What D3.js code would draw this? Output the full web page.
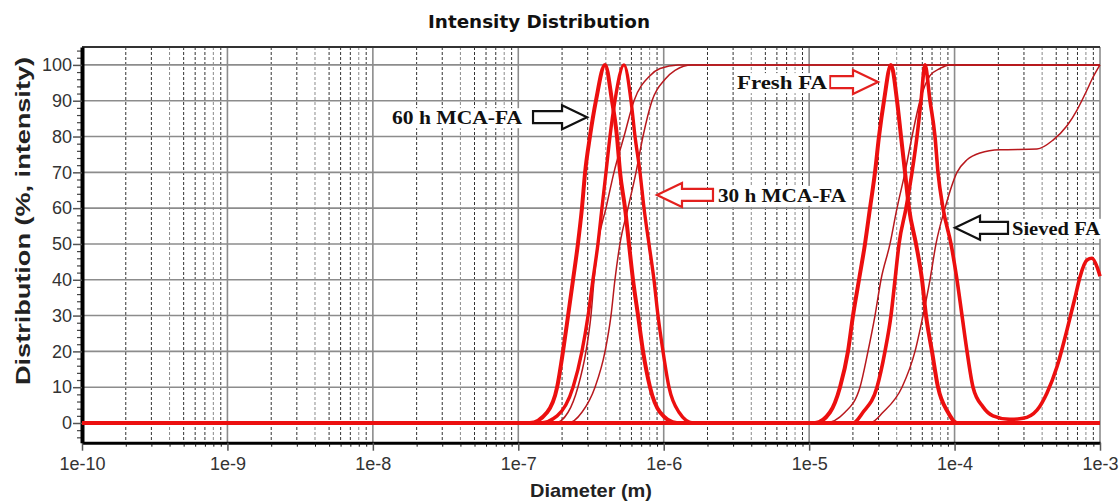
<!DOCTYPE html>
<html><head><meta charset="utf-8">
<script src="https://cdn.jsdelivr.net/npm/d3@7"></script>
<style>body{margin:0;background:#fff;}svg{display:block;}</style>
</head><body>
<svg id="chart" width="1120" height="502"></svg>
<script>
// ---------------- data (diameter in µm, value in % intensity) ----------------
const xDecades = [1e-10, 1e-9, 1e-8, 1e-7, 1e-6, 1e-5, 1e-4, 1e-3];
const yTickValues = [0, 10, 20, 30, 40, 50, 60, 70, 80, 90, 100];

const dist60h = [[0.120,0],[0.158,3],[0.185,10],[0.203,20],[0.220,30],[0.238,40],[0.257,50],[0.274,60],[0.288,70],[0.311,80],[0.342,90],[0.395,100],[0.441,90],[0.477,80],[0.501,70],[0.542,60],[0.577,50],[0.615,40],[0.666,30],[0.721,20],[0.805,10],[0.943,3],[1.234,0]];
const dist30h = [[0.141,0],[0.185,2],[0.238,10],[0.274,20],[0.302,30],[0.326,40],[0.353,50],[0.376,60],[0.401,70],[0.427,80],[0.462,90],[0.533,100],[0.596,90],[0.635,80],[0.687,70],[0.732,60],[0.792,50],[0.857,40],[0.913,30],[0.989,20],[1.087,10],[1.274,3],[1.590,0]];
const distFresh = [[10.97,0],[13.91,3],[16.30,10],[18.50,20],[20.03,30],[22.02,40],[24.21,50],[26.21,60],[28.37,70],[30.22,80],[32.71,90],[36.54,100],[40.20,90],[42.83,80],[45.63,70],[48.61,60],[54.31,50],[59.72,40],[63.62,30],[69.94,20],[76.91,10],[90.10,3],[103.9,0]];
const distSieved = [[20.03,0],[23.46,3],[29.28,10],[33.23,20],[36.54,30],[38.95,40],[41.49,50],[46.36,60],[50.98,70],[55.17,80],[58.78,90],[62.62,100],[67.76,90],[73.34,80],[76.91,70],[83.25,60],[94.49,50],[103.9,40],[112.5,30],[121.8,20],[133.9,10],[156.8,4.5],[183.7,2],[240.5,1],[295.4,1.3],[368.7,3.6],[432.0,8.4],[506.1,15.7],[593.0,26],[673.1,35],[728.6,40.8],[814,45.5],[881,46],[954,43.6],[1000,41]];

const cum60h = [[0.179,0],[0.220,3],[0.257,10],[0.292,20],[0.316,30],[0.332,40],[0.353,50],[0.401,60],[0.455,70],[0.533,80],[0.625,90],[0.805,97],[0.943,99],[1.254,100]];
const cum30h = [[0.220,0],[0.274,3],[0.337,10],[0.395,20],[0.434,30],[0.462,40],[0.500,50],[0.568,60],[0.645,70],[0.720,80],[0.831,90],[1.021,96],[1.196,98.5],[1.565,100]];
const cumFresh = [[12.85,0],[17.64,3],[22.37,10],[25.39,20],[28.37,30],[31.19,40],[35.97,50],[40.20,60],[45.63,70],[50.98,80],[57.85,90],[67.76,97],[79.4,99],[93.0,100]];
const cumSieved = [[26.21,0],[32.20,3],[43.51,10],[53.45,20],[60.67,30],[67.76,40],[74.51,50],[85.93,60],[103.9,70],[121.8,73.5],[149.6,75.4],[205.3,76.3],[368.7,76.5],[475.1,79],[593,83],[694.8,87.4],[814,93],[881,96],[1000,100]];

const labels = ["60 h MCA-FA", "30 h MCA-FA", "Fresh FA", "Sieved FA"];
const labelTips = [[0.297,85.4],[0.899,63.7],[29.75,95.2],[100.7,54.5]]; // arrow tip (µm, %)

// ---------------- layout ----------------
const svg = d3.select("#chart");
const L = 82, R = 1100, T = 47, B = 442.7;
const x = d3.scaleLog().domain([1e-10, 1e-3]).range([L, R]);
const y = d3.scaleLinear().domain([-5.5, 105]).range([B, T]);
const um = v => v * 1e-6;

// grid: minor dashed verticals
const minors = [];
xDecades.slice(0, -1).forEach(d => { for (let m = 2; m <= 9; m++) minors.push(d * m); });
svg.append("g").selectAll("line").data(minors).join("line")
  .attr("x1", d => x(d)).attr("x2", d => x(d)).attr("y1", T).attr("y2", B)
  .attr("stroke", (d, i) => (i % 8 === 2 || i % 8 === 6) ? "#8a8a8a" : "#333")
  .attr("stroke-width", 1).attr("stroke-dasharray", "3,2");
// decade verticals
svg.append("g").selectAll("line").data(xDecades.slice(1)).join("line")
  .attr("x1", d => x(d)).attr("x2", d => x(d)).attr("y1", T).attr("y2", B)
  .attr("stroke", "#8c8c8c").attr("stroke-width", 1.6);
// horizontal grid
svg.append("g").selectAll("line").data(yTickValues.slice(1)).join("line")
  .attr("x1", L).attr("x2", R).attr("y1", d => y(d)).attr("y2", d => y(d))
  .attr("stroke", "#8c8c8c").attr("stroke-width", 1.6);
// top border
svg.append("line").attr("x1", L).attr("x2", R).attr("y1", T).attr("y2", T)
  .attr("stroke", "#333").attr("stroke-width", 2);

// axes
const fmt = d => "1e" + Math.round(Math.log10(d));
const xAxis = svg.append("g").attr("transform", `translate(0,${B})`)
  .call(d3.axisBottom(x).tickValues(xDecades).tickFormat(fmt).tickSize(8).tickSizeOuter(0).tickPadding(7));
const xMinor = svg.append("g").attr("transform", `translate(0,${B})`)
  .call(d3.axisBottom(x).tickValues(minors).tickFormat("").tickSize(4).tickSizeOuter(0));
xMinor.select(".domain").remove();
xMinor.selectAll("line").attr("stroke", "#111").attr("stroke-width", 1);
xAxis.select(".domain").attr("stroke", "#000").attr("stroke-width", 3);
xAxis.selectAll(".tick line").attr("stroke", "#555").attr("stroke-width", 1.5);
xAxis.selectAll("text").attr("font-family", "'Liberation Sans', Arial, sans-serif")
  .attr("font-size", 18).attr("fill", "#333");

const yMinorVals = d3.range(-4, 105, 2).filter(v => v % 10 !== 0);
const yMinor = svg.append("g").attr("transform", `translate(${L},0)`)
  .call(d3.axisLeft(y).tickValues(yMinorVals).tickFormat("").tickSize(5).tickSizeOuter(0));
yMinor.select(".domain").remove();
yMinor.selectAll("line").attr("stroke", "#444").attr("stroke-width", 1.2);
const yAxis = svg.append("g").attr("transform", `translate(${L},0)`)
  .call(d3.axisLeft(y).tickValues(yTickValues).tickSize(9).tickSizeOuter(0).tickPadding(1));
yAxis.select(".domain").attr("stroke", "#000").attr("stroke-width", 4);
yAxis.selectAll(".tick line").attr("stroke", "#555").attr("stroke-width", 1.5);
yAxis.selectAll("text").attr("font-family", "'Liberation Sans', Arial, sans-serif")
  .attr("font-size", 18).attr("fill", "#333");

// ---------------- curves ----------------
const extend = arr => {
  const p = arr.slice();
  if (p[0][0] > 1e-4) p.unshift([1e-4, p[0][1]]);
  if (p[p.length - 1][0] < 1000) p.push([1000, p[p.length - 1][1]]);
  return p;
};
const line = d3.line().x(d => x(um(d[0]))).y(d => y(d[1])).curve(d3.curveMonotoneX);
const plot = svg.append("g");
[cum60h, cum30h, cumFresh, cumSieved].forEach(c => {
  plot.append("path").attr("d", line(extend(c))).attr("fill", "none")
    .attr("stroke", "#b8181d").attr("stroke-width", 1.5);
});
[[dist30h, 3.4], [distSieved, 3.6], [dist60h, 4], [distFresh, 4]].forEach(([c, w]) => {
  plot.append("path").attr("d", line(extend(c))).attr("fill", "none")
    .attr("stroke", "#ec0f0f").attr("stroke-width", w).attr("stroke-linejoin", "round");
});

// ---------------- annotations ----------------
const noteStyle = [
  {dir: 1, len: 54, gap: 11, color: "#111", width: 130},
  {dir: -1, len: 56, gap: 5, color: "#e3201e", width: 128},
  {dir: 1, len: 48, gap: 3, color: "#e3201e", width: 90},
  {dir: -1, len: 53, gap: 4, color: "#111", width: 88}
];
const ann = svg.append("g");
labels.forEach((txt, i) => {
  const s = noteStyle[i];
  const tx = x(um(labelTips[i][0])), ty = y(labelTips[i][1]);
  const H = 25, hh = 12, sh = 6, Ln = s.len;
  const g = ann.append("g").attr("transform", `translate(${tx},${ty}) scale(${s.dir},1)`);
  g.append("path")
    .attr("d", `M0,0 L${-H},${-hh} L${-H},${-sh} L${-Ln},${-sh} L${-Ln},${sh} L${-H},${sh} L${-H},${hh} Z`)
    .attr("fill", "#fff").attr("stroke", s.color).attr("stroke-width", 2.2).attr("stroke-linejoin", "miter");
  const tailX = tx - s.dir * Ln;
  const textX = s.dir === 1 ? tailX - s.gap : tailX + s.gap;
  const t = ann.append("text").attr("x", textX).attr("y", ty + 7)
    .attr("text-anchor", s.dir === 1 ? "end" : "start")
    .attr("font-family", "'Liberation Serif', 'Times New Roman', serif")
    .attr("font-weight", "bold").attr("font-size", 19).attr("fill", "#111")
    .attr("textLength", s.width).attr("lengthAdjust", "spacingAndGlyphs")
    .text(txt);
  const bb = t.node().getBBox();
  ann.insert("rect", () => t.node()).attr("x", bb.x - 2).attr("y", bb.y + 1)
    .attr("width", bb.width + 4).attr("height", bb.height - 1).attr("fill", "#fff");
});

// ---------------- titles ----------------
svg.append("text").attr("x", 539).attr("y", 28).attr("text-anchor", "middle")
  .attr("font-family", "'DejaVu Sans', Verdana, sans-serif").attr("font-weight", "bold")
  .attr("font-size", 17).attr("fill", "#111")
  .attr("textLength", 222).attr("lengthAdjust", "spacingAndGlyphs")
  .text("Intensity Distribution");
svg.append("text").attr("x", 591).attr("y", 497).attr("text-anchor", "middle")
  .attr("font-family", "'Liberation Sans', Arial, sans-serif").attr("font-weight", "bold")
  .attr("font-size", 19).attr("fill", "#222")
  .attr("textLength", 122).attr("lengthAdjust", "spacingAndGlyphs")
  .text("Diameter (m)");
svg.append("text").attr("transform", "translate(30,221) rotate(-90)").attr("text-anchor", "middle")
  .attr("font-family", "'Liberation Sans', Arial, sans-serif").attr("font-weight", "bold")
  .attr("font-size", 20).attr("fill", "#222")
  .attr("textLength", 328).attr("lengthAdjust", "spacingAndGlyphs")
  .text("Distribution (%, intensity)");
</script>
</body></html>
